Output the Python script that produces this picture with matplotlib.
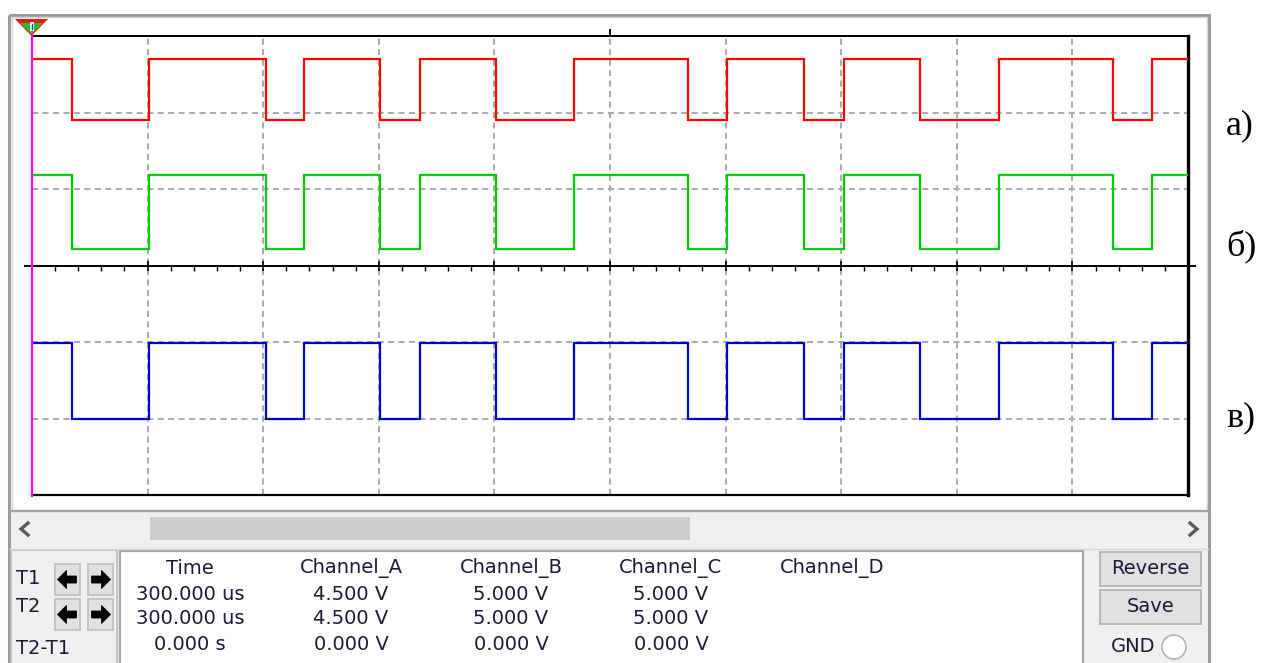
import numpy as np
import matplotlib.pyplot as plt
from matplotlib.patches import Rectangle, Polygon, Circle
from matplotlib.ticker import MultipleLocator

# switching moments, in screen divisions (10 across the screen)
edges = [0.343, 1.015, 2.022, 2.350, 3.010, 3.356, 4.014, 4.689,
         5.672, 6.015, 6.681, 7.024, 7.684, 8.363, 9.349, 9.692]
# 1 = high, 0 = low, one value per interval between edges
states = [1, 0, 1, 0, 1, 0, 1, 0, 1, 0, 1, 0, 1, 0, 1, 0, 1]

# (low, high) of every channel, in vertical divisions from the centre line
levels_a = (1.90, 2.70)
levels_b = (0.22, 1.18)
levels_c = (-2.00, -1.01)
trace_colors = ['#ff0000', '#00cc00', '#0000cc']
trace_labels = ['а)', 'б)', 'в)']

col_names = ['Time', 'Channel_A', 'Channel_B', 'Channel_C', 'Channel_D']
row_t1 = ['300.000 us', '4.500 V', '5.000 V', '5.000 V', '']
row_t2 = ['300.000 us', '4.500 V', '5.000 V', '5.000 V', '']
row_dt = ['0.000 s', '0.000 V', '0.000 V', '0.000 V', '']
row_names = ['T1', 'T2', 'T2-T1']

W, H = 1270, 663
txt_col = '#1a1a38'
ui_font = 'DejaVu Sans'

fig = plt.figure(figsize=(W / 100, H / 100), dpi=100)
fig.patch.set_facecolor('white')

# ---- window chrome, drawn in pixel coordinates
ui = fig.add_axes([0, 0, 1, 1])
ui.set_xlim(0, W)
ui.set_ylim(H, 0)
ui.axis('off')

# lower panel background
ui.add_patch(Rectangle((10, 512), 1198, H - 512, fc='#f0f0f0', ec='none'))
# outer frame
ui.add_patch(Rectangle((9, 14.5), 1200, 700, fc='none', ec='#9c9c9c', lw=2.2))
ui.add_patch(Rectangle((11.5, 17), 1195, 494, fc='none', ec='#d4d4d4', lw=1.0))
ui.plot([10, 1208], [511, 511], color='#a0a0a0', lw=1.6)

# scroll bar
ui.add_patch(Rectangle((150, 517), 540, 23, fc='#cdcdcd', ec='none'))
ui.plot([28, 21, 28], [523, 529, 535], color='#5a5a5a', lw=2.4, solid_joinstyle='miter')
ui.plot([1190, 1197, 1190], [523, 529, 535], color='#5a5a5a', lw=2.4, solid_joinstyle='miter')
ui.plot([10, 1208], [548.5, 548.5], color='#d8d8d8', lw=1.0)

# cursor button box
ui.add_patch(Rectangle((11, 550), 106, 120, fc='#f0f0f0', ec='#bcbcbc', lw=1.2))
for name, y in zip(row_names, [579, 607, 648]):
    ui.text(16, y, name, fontsize=14, family=ui_font, color=txt_col,
            ha='left', va='center')


def arrow_button(x0, y0, direction):
    ui.add_patch(Rectangle((x0, y0), 25, 31, fc='#e1e1e1', ec='#bdbdbd', lw=1.2))
    cx, cy = x0 + 12.5, y0 + 15.5
    s = direction
    pts = [(cx - 10 * s, cy), (cx - 1 * s, cy - 9), (cx - 1 * s, cy - 3.5),
           (cx + 9 * s, cy - 3.5), (cx + 9 * s, cy + 3.5), (cx - 1 * s, cy + 3.5),
           (cx - 1 * s, cy + 9)]
    ui.add_patch(Polygon(pts, closed=True, fc='black', ec='black', lw=0.6))


for yb in [564, 599]:
    arrow_button(55, yb, 1)
    arrow_button(88, yb, -1)

# readout table
ui.add_patch(Rectangle((120, 551), 963, 130, fc='white', ec='#a6a6a6', lw=1.6))
col_x = [190, 351, 511, 671, 832]
for cx, head, v1, v2, v3 in zip(col_x, col_names, row_t1, row_t2, row_dt):
    for y, s in zip([568, 594, 619, 645], [head, v1, v2, v3]):
        ui.text(cx, y, s, fontsize=14, family=ui_font, color=txt_col,
                ha='center', va='center')

# right side buttons
for y0, label in [(552, 'Reverse'), (590, 'Save')]:
    ui.add_patch(Rectangle((1100, y0), 101, 34, fc='#e1e1e1', ec='#adadad', lw=1.2))
    ui.text(1150.5, y0 + 17, label, fontsize=14, family=ui_font, color=txt_col,
            ha='center', va='center')
ui.text(1133, 647, 'GND', fontsize=14, family=ui_font, color=txt_col,
        ha='center', va='center')
ui.add_patch(Circle((1174, 647), 12, fc='white', ec='#b4b4b4', lw=1.2))

# trigger marker
ui.add_patch(Polygon([(15, 19), (48, 19), (31.5, 36)], closed=True, fc='#ff1010', ec='none'))
ui.add_patch(Polygon([(20, 23), (43, 23), (31.5, 34.5)], closed=True, fc='#20c020', ec='none'))
ui.add_patch(Rectangle((29.5, 22), 4, 9, fc='white', ec='none'))
ui.plot([31.5, 31.5], [24, 29], color='#3030c0', lw=1.0)

# trace labels
for label, y in zip(trace_labels, [126, 246, 418]):
    ui.text(1226, y, label, fontsize=26, family='Liberation Serif', color='black',
            ha='left', va='center')

# ---- oscilloscope screen
ax = fig.add_axes([32 / W, (H - 495) / H, 1156 / W, 459 / H])
ax.set_xlim(0, 10)
ax.set_ylim(-3, 3)
ax.set_facecolor('white')

ax.xaxis.set_major_locator(MultipleLocator(1))
ax.xaxis.set_minor_locator(MultipleLocator(0.2))
ax.yaxis.set_major_locator(MultipleLocator(1))
ax.grid(True, which='major', color='#ababab', lw=1.45, ls=(0, (3.0, 2.2)))
ax.set_axisbelow(True)

ax.spines['bottom'].set_position(('data', 0))
ax.spines['bottom'].set_bounds(-0.06, 10.06)
ax.spines['bottom'].set_linewidth(1.4)
ax.spines['top'].set_linewidth(1.4)
ax.spines['right'].set_linewidth(2.4)
ax.spines['left'].set_visible(False)
ax.tick_params(axis='x', which='major', direction='inout', length=7, width=1.2,
               labelbottom=False)
ax.tick_params(axis='x', which='minor', direction='out', length=3.5, width=1.0)
ax.tick_params(axis='y', which='both', length=0, labelleft=False)

top = ax.secondary_xaxis('top')
top.set_xticks([5])
top.tick_params(direction='out', length=5, width=1.4, labeltop=False)
top.spines['top'].set_linewidth(1.4)

ax.axhline(-3, color='black', lw=1.6, clip_on=False)

bins = [0] + edges + [10]
for (lo, hi), col in zip([levels_a, levels_b, levels_c], trace_colors):
    vals = [hi if s else lo for s in states]
    ax.stairs(vals, bins, baseline=None, color=col, lw=1.6, zorder=3)

# cursor T1
ax.axvline(0, ymin=-0.002, ymax=1.002, color='#ff00ff', lw=1.6, clip_on=False, zorder=4)

fig.savefig('out.png', dpi=100, facecolor='white')
